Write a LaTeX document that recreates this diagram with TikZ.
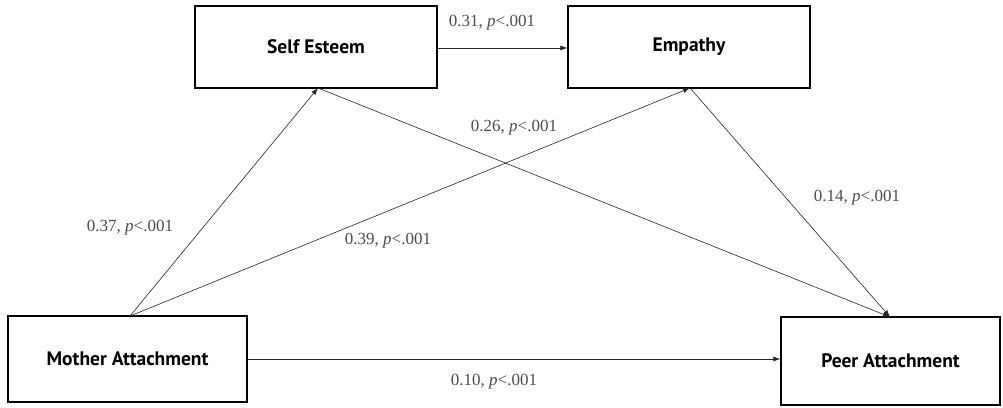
\documentclass[tikz,border=0pt]{standalone}
\usepackage{fontspec}
\setmainfont{Liberation Serif}
\setsansfont{PT Sans}
\usetikzlibrary{arrows.meta}
\begin{document}
\begin{tikzpicture}[x=1pt,y=-1pt,
  box/.style={draw=black,line width=1.3pt,minimum height=0pt,inner sep=0pt,font=\sffamily\bfseries\fontsize{19.5}{21}\selectfont},
  conn/.style={draw=black!85,line width=0.6pt,-{Latex[length=7pt,width=5pt]}},
  lab/.style={text=black!70,font=\fontsize{17}{19}\selectfont,inner sep=1pt}]
\useasboundingbox (0,0) rectangle (1003,407);
\node[box,minimum width=242pt,minimum height=82pt] (se) at (316,47) {Self Esteem};
\node[box,minimum width=242pt,minimum height=82pt] (em) at (689,47) {Empathy};
\node[box,minimum width=239pt,minimum height=86pt] (ma) at (127.5,359) {Mother Attachment};
\node[box,minimum width=219pt,minimum height=88pt] (pa) at (890.5,361) {Peer Attachment};
\coordinate (mat) at (130,316);
\coordinate (seb) at (318,88);
\coordinate (emb) at (690,88);
\coordinate (pat) at (890,317);
\draw[conn] (se.east |- 0,48) -- (em.west |- 0,48);
\draw[conn] (mat) -- (seb);
\draw[conn] (mat) -- (emb);
\draw[conn] (seb) -- (pat);
\draw[conn] (emb) -- (pat);
\draw[conn] (ma.east |- 0,359) -- (pa.west |- 0,359);
\node[lab] (l1) at (492,23) {0.31, \textit{p}<.001};
\node[lab] (l2) at (514,128) {0.26, \textit{p}<.001};
\node[lab] (l3) at (130,228) {0.37, \textit{p}<.001};
\node[lab] (l4) at (388,241) {0.39, \textit{p}<.001};
\node[lab] (l5) at (857,198) {0.14, \textit{p}<.001};
\node[lab] (l6) at (494,382) {0.10, \textit{p}<.001};
\end{tikzpicture}
\end{document}
